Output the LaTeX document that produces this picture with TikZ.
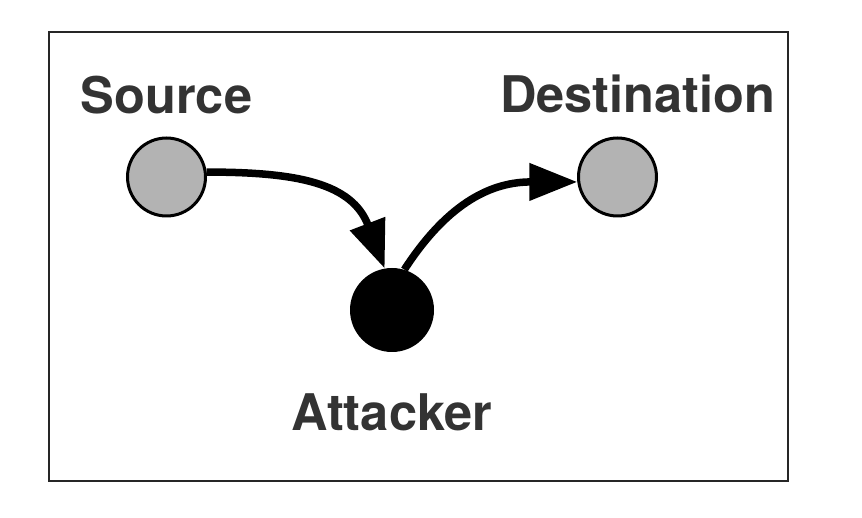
\documentclass[tikz,border=0pt]{standalone}
\usepackage{fontspec}
\setmainfont{TeX Gyre Heros}
\usetikzlibrary{arrows.meta}
\definecolor{txt}{HTML}{333333}
\definecolor{nodegray}{HTML}{B3B3B3}
\begin{document}
\begin{tikzpicture}[x=1pt,y=-1pt,
  peer/.style={circle,draw=black,line width=3pt,fill=nodegray,minimum size=78pt,inner sep=0pt},
  evil/.style={circle,fill=black,minimum size=84pt,inner sep=0pt},
  lbl/.style={anchor=base,text=txt,font=\fontsize{50.5}{60}\selectfont\bfseries},
  arr/.style={line width=7.5pt,-{Triangle[length=48pt,width=36pt]}}]
\useasboundingbox (0,0) rectangle (862,518);
\node[draw=black!85,line width=2pt,minimum width=739pt,minimum height=449pt,inner sep=0pt] (frame) at (418.5,256.5) {};
\node[peer] (src) at (166.5,177) {};
\node[peer] (dst) at (617.5,177) {};
\node[evil] (att) at (392,310) {};
\node[lbl] (srcl) at (166.5,114) {Source};
\node[lbl] (dstl) at (637.5,113) {Destination};
\node[lbl] (attl) at (392,430) {Attacker};
\draw[arr] (src.7) to[out=0,in=111,looseness=1.15] (att.100);
\draw[arr] (att.73) to[out=57,in=180,looseness=1.1] (dst.187);
\end{tikzpicture}
\end{document}
